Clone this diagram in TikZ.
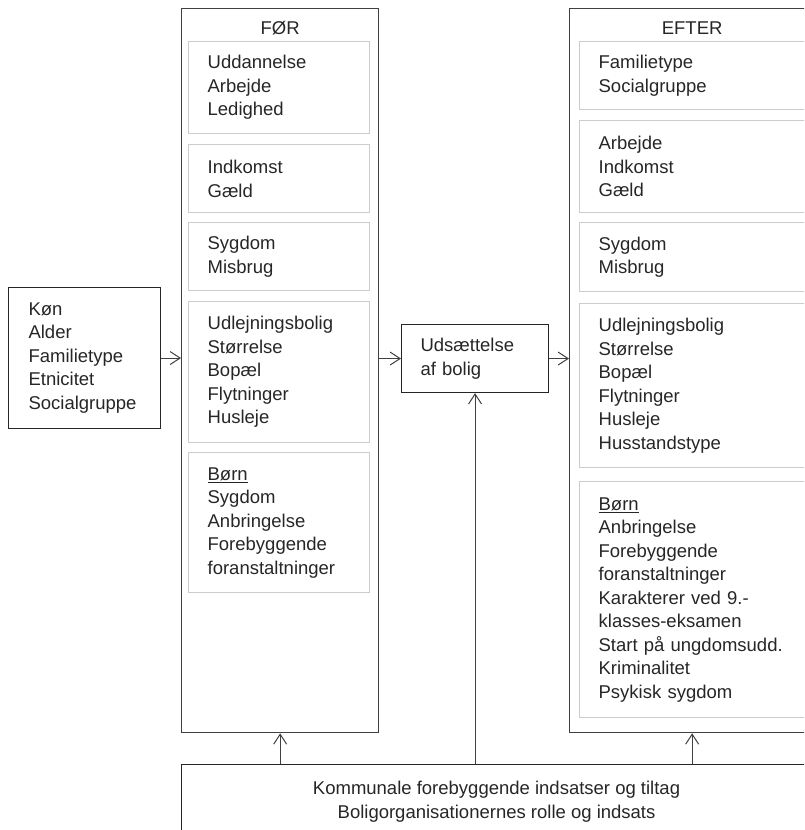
\documentclass[tikz,border=0pt]{standalone}
\usepackage{fontspec}
\setmainfont{Liberation Sans}
\usetikzlibrary{arrows.meta,positioning}

\newcommand{\tekst}{\fontsize{18.5}{23.5}\selectfont}

\tikzset{
  ramme/.style={draw=black!75, line width=1.3pt, anchor=north west, inner sep=0pt},
  felt/.style={draw=black!20, line width=1.3pt, anchor=north west, align=left,
    inner xsep=19pt, inner ysep=0pt},
  boks/.style={draw=black!85, line width=1.1pt, anchor=north west, align=left,
    inner xsep=20pt, inner ysep=0pt},
  pil/.style={draw=black!75, line width=1pt, -{Straight Barb[length=10pt,width=13pt]}},
}

\begin{document}
\begin{tikzpicture}[x=1pt,y=1pt]\tikzstyle{every node}=[font=\tekst, text=black!85]
  \useasboundingbox (0,0) rectangle (804,-830);
  \clip (0,0) rectangle (804,-830);
% baggrund
  \node[boks, text width=112pt, minimum height=141pt] (baggrund) at (8,-287)%
{Køn\\Alder\\Familietype\\Etnicitet\\Socialgruppe};
% foer
  \node[ramme, minimum width=197pt, minimum height=724pt] (foer) at (181,-8) {};
  \node[anchor=base] (foertitel) at ([yshift=-26pt]foer.north) {FØR};
  \node[felt, text width=143pt, minimum height=92pt] (foer1) at (188,-41)%
{Uddannelse\\Arbejde\\Ledighed};
  \node[felt, text width=143pt, minimum height=68pt] (foer2) at (188,-144)%
{Indkomst\\Gæld};
  \node[felt, text width=143pt, minimum height=68pt] (foer3) at (188,-222)%
{Sygdom\\Misbrug};
  \node[felt, text width=143pt, minimum height=141pt] (foer4) at (188,-301)%
{Udlejningsbolig\\Størrelse\\Bopæl\\Flytninger\\Husleje};
  \node[felt, text width=143pt, minimum height=140pt] (foer5) at (188,-452)%
{\underline{Børn}\\Sygdom\\Anbringelse\\Forebyggende\\foranstaltninger};
% udsaettelse
  \node[boks, inner xsep=19pt, text width=109pt, minimum height=68pt] (udsaet) at (401,-324)%
{Udsættelse\\af bolig};
% efter
  \node[ramme, minimum width=245pt, minimum height=724pt] (efter) at (569,-8) {};
  \node[anchor=base] (eftertitel) at ([yshift=-26pt]efter.north) {EFTER};
  \node[felt, text width=190pt, minimum height=68pt] (efter1) at (579,-41)%
{Familietype\\Socialgruppe};
  \node[felt, text width=190pt, minimum height=92pt] (efter2) at (579,-120)%
{Arbejde\\Indkomst\\Gæld};
  \node[felt, text width=190pt, minimum height=69pt] (efter3) at (579,-222)%
{Sygdom\\Misbrug};
  \node[felt, text width=190pt, minimum height=164pt] (efter4) at (579,-303)%
{Udlejningsbolig\\Størrelse\\Bopæl\\Flytninger\\Husleje\\Husstandstype};
  \node[felt, text width=190pt, minimum height=236pt] (efter5) at (579,-481)%
{\underline{Børn}\\Anbringelse\\Forebyggende\\foranstaltninger\\Karakterer ved 9.-\\%
klasses-eksamen\\Start på ungdomsudd.\\Kriminalitet\\Psykisk sygdom};
% indsatser
  \node[boks, align=center, minimum width=630pt, minimum height=74pt] (bund) at (181,-764)%
{Kommunale forebyggende indsatser og tiltag\\Boligorganisationernes rolle og indsats};
% pile
  \draw[pil] (baggrund.east) -- (baggrund.east -| foer.west);
  \draw[pil] (foer.east |- udsaet.west) -- (udsaet.west);
  \draw[pil] (udsaet.east) -- (udsaet.east -| efter.west);
  \draw[pil] (bund.north -| foer.south) -- (foer.south);
  \draw[pil] (bund.north -| udsaet.south) -- (udsaet.south);
  \draw[pil] (bund.north -| efter.south) -- (efter.south);
\end{tikzpicture}
\end{document}
